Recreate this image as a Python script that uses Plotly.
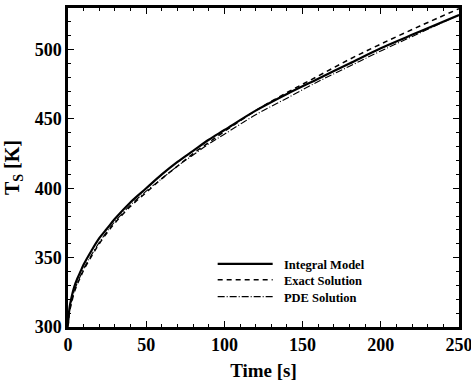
import plotly.graph_objects as go

time_s = [0, 1, 2, 4, 6, 8, 10, 15, 20, 25, 30, 40, 50, 60, 70, 80, 90, 100,
          120, 140, 160, 180, 200, 225, 250]
integral_model = [302, 314, 320, 329, 335, 340, 345, 355, 364, 371, 378, 390, 400, 410, 419, 427, 435, 442,
                  456, 468, 479, 490, 501, 513, 525]
exact_solution = [300, 311, 316, 325, 331, 336, 341, 351, 360, 368, 375, 387, 397, 407, 416, 425, 433, 441,
                  456, 469, 481, 493, 504, 517, 529.5]
pde_solution = [301, 312, 317, 326, 332, 337, 342, 352, 361, 369, 376, 388, 398, 407, 416, 424, 432, 439,
                453, 465, 477, 488, 499, 512, 525]

series_names = ["Integral Model", "Exact Solution", "PDE Solution"]
x_ticks = [0, 50, 100, 150, 200, 250]
y_ticks = [300, 350, 400, 450, 500]

font_family = "Liberation Serif"

fig = go.Figure()
fig.add_trace(go.Scatter(x=time_s, y=integral_model, mode="lines", name="\u00a0\u00a0" + series_names[0],
                         legend="legend",
                         line=dict(color="black", width=2.2, shape="spline", smoothing=1.0)))
fig.add_trace(go.Scatter(x=time_s, y=exact_solution, mode="lines", name="\u00a0\u00a0" + series_names[1],
                         legend="legend2",
                         line=dict(color="black", width=1.5, dash="5px,4px", shape="spline", smoothing=1.0)))
fig.add_trace(go.Scatter(x=time_s, y=pde_solution, mode="lines", name="\u00a0\u00a0" + series_names[2],
                         legend="legend3",
                         line=dict(color="black", width=1.1, dash="7px,2px,1px,2px", shape="spline", smoothing=1.0)))

axis_common = dict(
    showline=True, linecolor="black", linewidth=2.5, mirror="allticks",
    ticks="inside", ticklen=6, tickwidth=1.2, tickcolor="black",
    showgrid=False, zeroline=False, ticklabeloverflow="allow", automargin=False,
    tickfont=dict(family=font_family, size=18, color="black", weight="bold"),
)

fig.update_xaxes(range=[0, 250], tickvals=x_ticks, **axis_common,
                 minor=dict(dtick=10, ticks="inside", ticklen=3, tickwidth=1, tickcolor="black"),
                 title=dict(text="Time [s]", font=dict(family=font_family, size=19, color="black", weight="bold"),
                            standoff=10))
fig.update_yaxes(range=[300, 530], tickvals=y_ticks, **axis_common,
                 minor=dict(dtick=10, ticks="inside", ticklen=3, tickwidth=1, tickcolor="black"),
                 title=dict(text="T<sub>S</sub> [K]", font=dict(family=font_family, size=20, color="black", weight="bold"),
                            standoff=10))

legend_common = dict(xanchor="left", yanchor="middle", bgcolor="rgba(0,0,0,0)",
                     font=dict(family=font_family, size=12.5, color="black", weight="bold"),
                     itemwidth=55)

fig.update_layout(
    width=471, height=384,
    margin=dict(l=68, r=12, t=8, b=57),
    paper_bgcolor="white", plot_bgcolor="white",
    showlegend=True,
    legend=dict(x=0.37, y=0.197, **legend_common),
    legend2=dict(x=0.37, y=0.147, **legend_common),
    legend3=dict(x=0.37, y=0.094, **legend_common),
)

fig.write_html("out.html")
